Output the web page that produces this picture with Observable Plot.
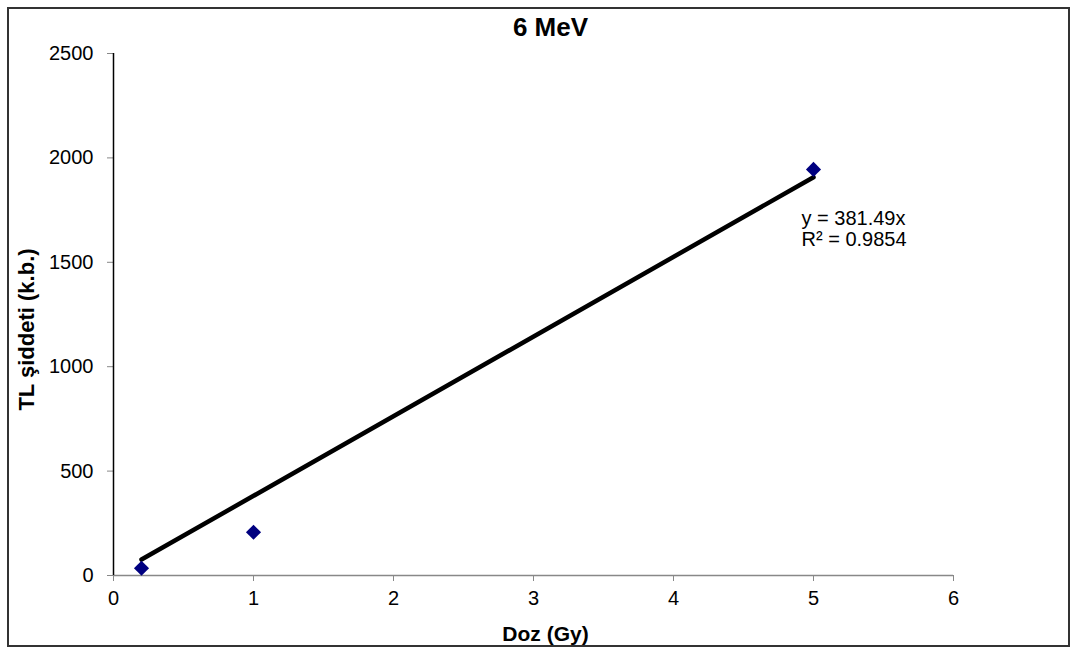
<!DOCTYPE html>
<html>
<head>
<meta charset="utf-8">
<script src="https://cdn.jsdelivr.net/npm/d3@7"></script>
<script src="https://cdn.jsdelivr.net/npm/@observablehq/plot@0.6"></script>
<style>
  html, body { margin: 0; padding: 0; background: #fff; }
  #wrap { position: relative; width: 1075px; height: 652px; }
  #border { position: absolute; left: 7px; top: 7px; width: 1059px; height: 636px; border: 2px solid #333; pointer-events: none; }
</style>
</head>
<body>
<div id="wrap"><div id="border"></div></div>
<script>
const titleText = "6 MeV";
const xLabel = "Doz (Gy)";
const yLabel = "TL şiddeti (k.b.)";
const doses = [0.2, 1, 5];
const tlValues = [35, 207, 1945];
const slope = 381.49;
const r2 = 0.9854;
const xTicks = [0, 1, 2, 3, 4, 5, 6];
const yTicks = [0, 500, 1000, 1500, 2000, 2500];

const points = doses.map((d, i) => ({x: d, y: tlValues[i]}));
const xMin = d3.min(doses), xMax = d3.max(doses);
const trend = [xMin, xMax].map(x => ({x, y: slope * x}));

const chart = Plot.plot({
  width: 1075,
  height: 652,
  marginLeft: 113,
  marginRight: 122,
  marginTop: 53,
  marginBottom: 77,
  style: {fontFamily: "'Liberation Sans', Arial, sans-serif", fontSize: "20px", color: "#000", background: "transparent"},
  x: {domain: [0, 6], ticks: xTicks},
  y: {domain: [0, 2500], ticks: yTicks},
  marks: [
    Plot.ruleY([0], {stroke: "#888", strokeWidth: 1.5}),
    Plot.axisX({ticks: xTicks, tickFormat: d => String(d), tickSize: 6, tickPadding: 9, stroke: "#888", strokeOpacity: 1, fill: "#000", label: null, fontSize: 20}),
    Plot.axisY({ticks: yTicks, tickFormat: d => String(d), tickSize: 6, tickPadding: 14, stroke: "#888", strokeOpacity: 1, fill: "#000", label: null, fontSize: 20}),
    Plot.ruleX([0], {stroke: "#000", strokeWidth: 1.5}),
    Plot.line(trend, {x: "x", y: "y", stroke: "#000", strokeWidth: 4.5}),
    Plot.dot(points, {x: "x", y: "y", symbol: "diamond2", r: 6.8, fill: "#000080", stroke: "none"}),
    Plot.text([titleText], {frameAnchor: "top", dx: 17, dy: -26, lineAnchor: "middle", fontSize: 26, fontWeight: "bold"}),
    Plot.text([xLabel], {frameAnchor: "bottom", dx: 12, dy: 59, lineAnchor: "middle", fontSize: 21, fontWeight: "bold"}),
    Plot.text([yLabel], {frameAnchor: "left", dx: -87, dy: 15, rotate: -90, textAnchor: "middle", lineAnchor: "middle", fontSize: 22, fontWeight: "bold"}),
    Plot.text([`y = ${slope}x`, `R² = ${r2}`], {x: [5, 5], y: [1709, 1610], dx: -12, textAnchor: "start", lineAnchor: "middle", fontSize: 20})
  ]
});
document.getElementById("wrap").appendChild(chart);
chart.style.position = "absolute";
chart.style.left = "0";
chart.style.top = "0";
</script>
</body>
</html>
